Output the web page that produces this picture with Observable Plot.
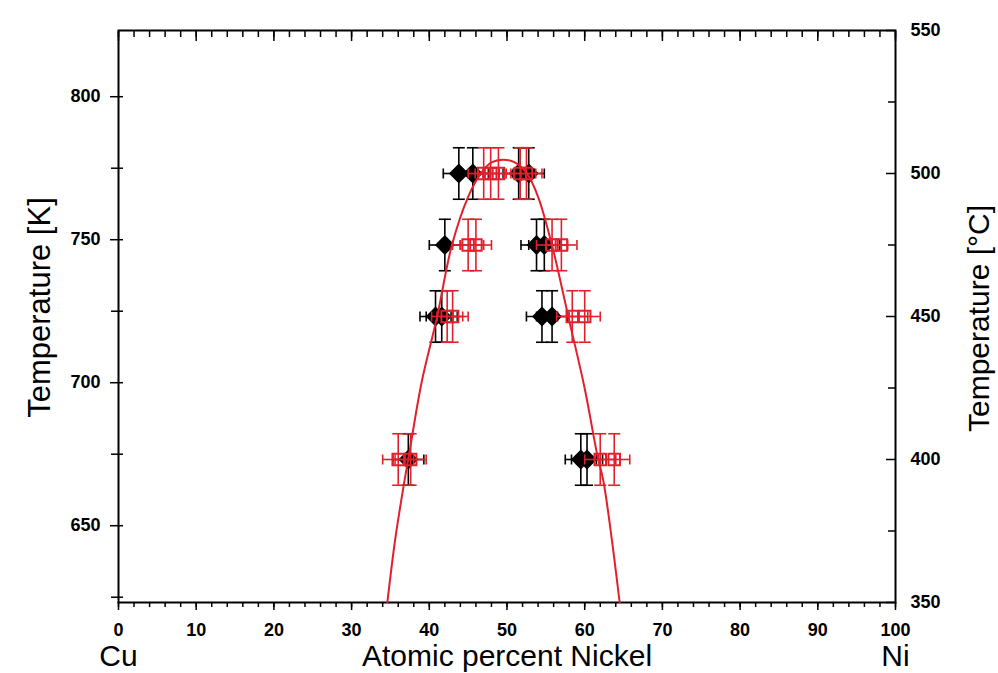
<!DOCTYPE html>
<html><head><meta charset="utf-8">
<script src="https://cdn.jsdelivr.net/npm/d3@7"></script>
<script src="https://cdn.jsdelivr.net/npm/@observablehq/plot@0.6"></script>
<style>html,body{margin:0;padding:0;background:#fff;} #chart{width:998px;height:673px;}</style>
</head><body><div id="chart"></div>
<script>
const K0 = 273.15;

// Black filled diamonds: atomic percent Ni and temperature (K)
const blackNi = [43.8, 45.6, 51.5, 52.8,  42.0, 53.8, 54.8,  40.8, 41.6, 54.5, 55.8,  37.3, 59.5, 60.3];
const blackT  = [773.15, 773.15, 773.15, 773.15,  748.15, 748.15, 748.15,  723.15, 723.15, 723.15, 723.15,  673.15, 673.15, 673.15];

// Red open squares
const redNi = [47.0, 47.9, 48.9, 51.7, 52.5,  45.0, 46.0, 55.8, 57.0,  42.3, 43.0, 58.4, 60.0,  36.0, 37.6, 62.0, 63.8];
const redT  = [773.15, 773.15, 773.15, 773.15, 773.15,  748.15, 748.15, 748.15, 748.15,  723.15, 723.15, 723.15, 723.15,  673.15, 673.15, 673.15, 673.15];

// error half-widths
const xErr = 2.0;   // at.% Ni
const tErr = 9;     // K

// Red fitted miscibility-gap curve
const curveNi = [34.6, 35.6, 36.7, 37.4, 39.0, 41.0, 42.9, 45.0, 46.6, 48.0, 49.5, 51.0, 52.6, 54.0, 55.8, 57.9, 60.0, 61.6, 62.4, 63.5, 64.5];
const curveT  = [623.15, 645, 664, 675, 700, 723, 748, 765, 773, 777, 778, 777, 773, 765, 748, 723, 698, 675, 665.7, 645, 623.15];

// Tick values
const xMajor = [0, 10, 20, 30, 40, 50, 60, 70, 80, 90, 100];
const xMinor = d3.range(0, 101, 2);
const leftMajorK = [650, 700, 750, 800];
const leftMinorK = [625, 675, 725, 775];
const rightMajorC = [350, 400, 450, 500, 550];
const rightMinorC = [375, 425, 475, 525];
const endLabels = ["Cu", "Ni"];
const endX = [0, 100];

const RED = "#e2202c";
const black = blackNi.map((x, i) => ({x, T: blackT[i]}));
const red = redNi.map((x, i) => ({x, T: redT[i]}));
const curve = curveNi.map((x, i) => ({x, T: curveT[i]}));
const ends = endLabels.map((t, i) => ({t, x: endX[i]}));

const capH = {draw(ctx, size) { const r = Math.sqrt(size / Math.PI); ctx.moveTo(-r, 0); ctx.lineTo(r, 0); }};
const capV = {draw(ctx, size) { const r = Math.sqrt(size / Math.PI); ctx.moveTo(0, -r); ctx.lineTo(0, r); }};

function errorMarks(data, color) {
  const s = {stroke: color, strokeWidth: 1.6};
  return [
    Plot.ruleX(data, {x: "x", y1: d => d.T - tErr, y2: d => d.T + tErr, ...s}),
    Plot.ruleY(data, {y: "T", x1: d => d.x - xErr, x2: d => d.x + xErr, ...s}),
    Plot.dot(data, {x: "x", y: d => d.T + tErr, symbol: capH, r: 6, fill: "none", ...s}),
    Plot.dot(data, {x: "x", y: d => d.T - tErr, symbol: capH, r: 6, fill: "none", ...s}),
    Plot.dot(data, {x: d => d.x - xErr, y: "T", symbol: capV, r: 5, fill: "none", ...s}),
    Plot.dot(data, {x: d => d.x + xErr, y: "T", symbol: capV, r: 5, fill: "none", ...s})
  ];
}

const blank = () => "";
const tickStyle = {strokeWidth: 1.5, label: null};

const chart = Plot.plot({
  width: 998, height: 673,
  marginLeft: 118, marginRight: 103, marginTop: 30, marginBottom: 71,
  style: {fontFamily: "'Liberation Sans', Arial, sans-serif", fontSize: "18px", color: "black", background: "white"},
  x: {domain: [0, 100]},
  y: {domain: [623.15, 823.15]},
  marks: [
    // bottom axis (outward ticks)
    Plot.axisX(xMinor, {anchor: "bottom", tickSize: 5, tickFormat: blank, ...tickStyle}),
    Plot.axisX(xMajor, {anchor: "bottom", tickSize: 8, tickPadding: 13, fontWeight: "bold", fontSize: 18, ...tickStyle}),
    // top axis (inward ticks)
    Plot.axisX(xMinor, {anchor: "top", tickSize: -6, tickPadding: 0, tickFormat: blank, ...tickStyle}),
    Plot.axisX(xMajor, {anchor: "top", tickSize: -10, tickPadding: 0, tickFormat: blank, ...tickStyle}),
    // left axis, Kelvin (ticks cross the axis)
    Plot.axisY(leftMinorK, {anchor: "left", tickSize: 7, tickFormat: blank, ...tickStyle}),
    Plot.axisY(leftMajorK, {anchor: "left", tickSize: 8, tickPadding: 10, fontWeight: "bold", fontSize: 18, ...tickStyle}),
    Plot.axisY([...leftMinorK, ...leftMajorK], {anchor: "left", tickSize: -5, tickPadding: 0, tickFormat: blank, ...tickStyle}),
    // right axis, Celsius (inward ticks)
    Plot.axisY(rightMinorC.map(c => c + K0), {anchor: "right", tickSize: -8, tickPadding: 0, tickFormat: blank, ...tickStyle}),
    Plot.axisY(rightMajorC.map(c => c + K0), {anchor: "right", tickSize: -10, tickPadding: 25, tickFormat: d => Math.round(d - K0), fontWeight: "bold", fontSize: 18, ...tickStyle}),
    Plot.frame({stroke: "black", strokeWidth: 2}),

    ...errorMarks(black, "black"),
    Plot.dot(black, {x: "x", y: "T", symbol: "diamond2", r: 8, fill: "black", stroke: "black"}),
    ...errorMarks(red, RED),
    Plot.dot(red, {x: "x", y: "T", symbol: "square", r: 6.5, fill: "none", stroke: RED, strokeWidth: 2}),
    Plot.line(curve, {x: "x", y: "T", stroke: RED, strokeWidth: 2, curve: "catmull-rom"}),

    // titles
    Plot.text(["Temperature [K]"], {frameAnchor: "left", dx: -69, dy: -9, rotate: -90, textAnchor: "middle", lineAnchor: "bottom", fontSize: 31}),
    Plot.text(["Temperature [°C]"], {frameAnchor: "right", dx: 93, dy: 2, rotate: -90, textAnchor: "middle", lineAnchor: "bottom", fontSize: 30}),
    Plot.text(["Atomic percent Nickel"], {frameAnchor: "bottom", dy: 63, lineAnchor: "bottom", fontSize: 30}),
    Plot.text(ends, {x: "x", text: "t", frameAnchor: "bottom", dy: 63, lineAnchor: "bottom", fontSize: 30})
  ]
});
document.getElementById("chart").appendChild(chart);
</script>
</body></html>
